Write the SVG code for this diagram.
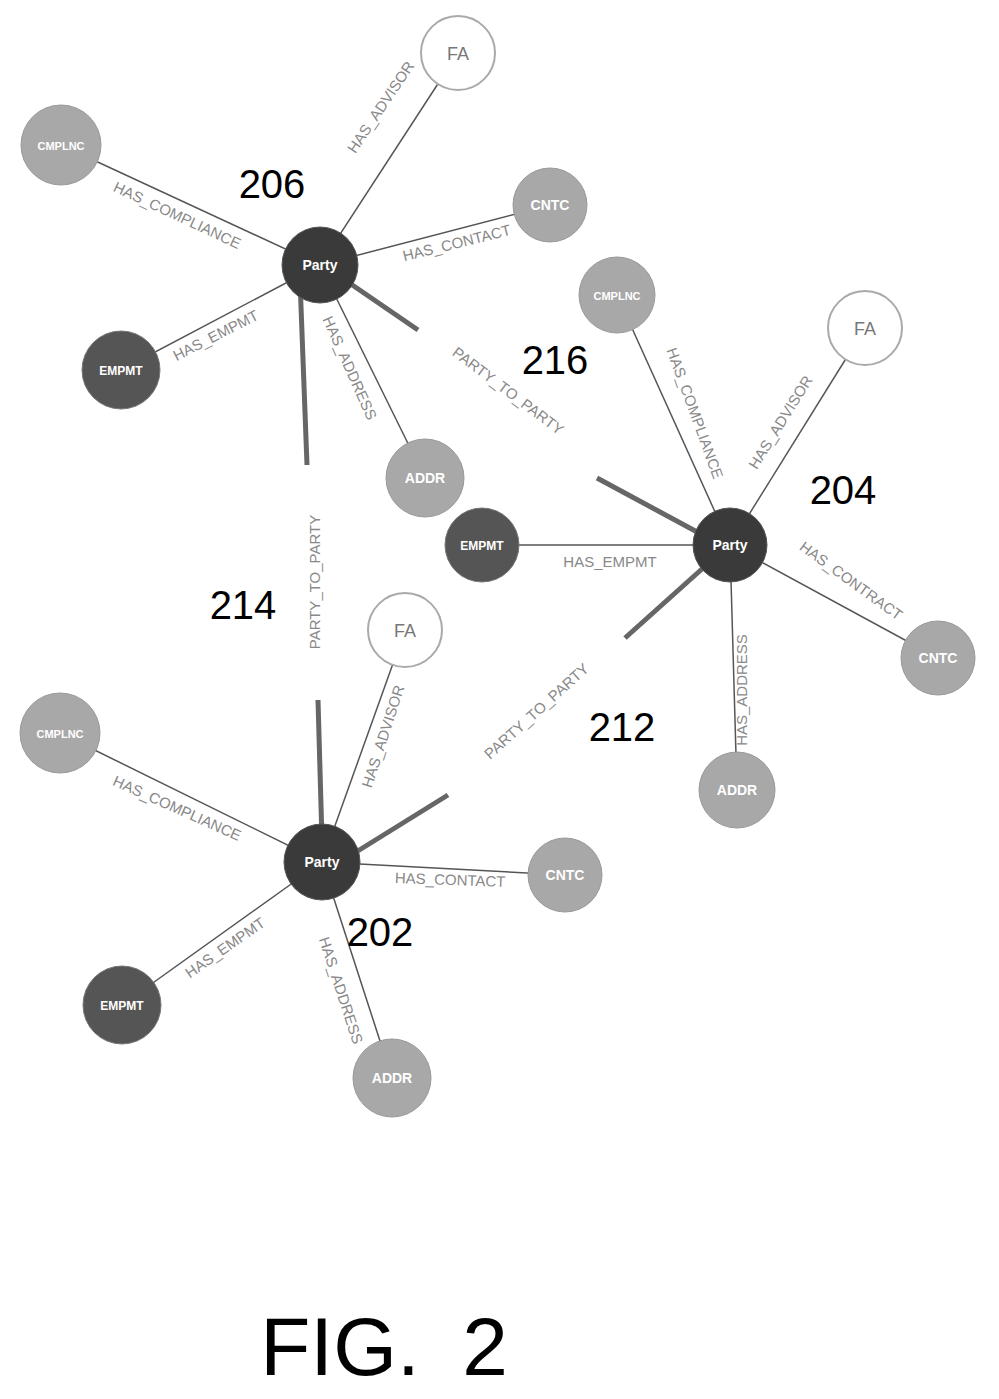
<svg xmlns="http://www.w3.org/2000/svg" width="999" height="1399" viewBox="0 0 999 1399">
<style>
.e{stroke:#555;stroke-width:1.5;fill:none}
.p{stroke:#666;stroke-width:5;fill:none}
.l{font-family:"Liberation Sans",Arial,sans-serif;font-size:15px;fill:#888;text-anchor:middle}
.n{font-family:"Liberation Sans",Arial,sans-serif;font-size:40px;fill:#000;text-anchor:middle}
.t{font-family:"Liberation Sans",Arial,sans-serif;font-size:14px;fill:#fff;text-anchor:middle;font-weight:bold}
.party{fill:#3a3a3a;stroke:#555}
.emp{fill:#555;stroke:#777}
.gray{fill:#a8a8a8;stroke:#999}
.fa{fill:#fff;stroke:#aaa;stroke-width:2}
</style>
<rect width="999" height="1399" fill="#fff"/>
<g id="connectors">
<line class="e" x1="320" y1="265" x2="458" y2="53"/>
<line class="e" x1="320" y1="265" x2="61" y2="145"/>
<line class="e" x1="320" y1="265" x2="550" y2="205"/>
<line class="e" x1="320" y1="265" x2="121" y2="370"/>
<line class="e" x1="320" y1="265" x2="425" y2="478"/>
<line class="e" x1="730" y1="545" x2="617" y2="295"/>
<line class="e" x1="730" y1="545" x2="865" y2="328"/>
<line class="e" x1="730" y1="545" x2="482" y2="545"/>
<line class="e" x1="730" y1="545" x2="938" y2="658"/>
<line class="e" x1="730" y1="545" x2="737" y2="790"/>
<line class="e" x1="322" y1="862" x2="405" y2="630"/>
<line class="e" x1="322" y1="862" x2="60" y2="733"/>
<line class="e" x1="322" y1="862" x2="565" y2="875"/>
<line class="e" x1="322" y1="862" x2="122" y2="1005"/>
<line class="e" x1="322" y1="862" x2="392" y2="1078"/>
<line class="p" x1="300" y1="280" x2="307" y2="465"/>
<line class="p" x1="318" y1="700" x2="322" y2="840"/>
<line class="p" x1="345" y1="280" x2="418" y2="330"/>
<line class="p" x1="597" y1="478" x2="712" y2="540"/>
<line class="p" x1="340" y1="862" x2="448" y2="795"/>
<line class="p" x1="625" y1="638" x2="712" y2="560"/>
<text class="l" transform="translate(385,110) rotate(-56)">HAS_ADVISOR</text>
<text class="l" transform="translate(175,220) rotate(25)">HAS_COMPLIANCE</text>
<text class="l" transform="translate(458,248) rotate(-14)">HAS_CONTACT</text>
<text class="l" transform="translate(218,340) rotate(-27)">HAS_EMPMT</text>
<text class="l" transform="translate(345,370) rotate(66)">HAS_ADDRESS</text>
<text class="l" transform="translate(505,395) rotate(37)">PARTY_TO_PARTY</text>
<text class="l" transform="translate(320,582) rotate(-90)">PARTY_TO_PARTY</text>
<text class="l" transform="translate(690,415) rotate(70)">HAS_COMPLIANCE</text>
<text class="l" transform="translate(785,425) rotate(-58)">HAS_ADVISOR</text>
<text class="l" transform="translate(610,567)">HAS_EMPMT</text>
<text class="l" transform="translate(848,585) rotate(36)">HAS_CONTRACT</text>
<text class="l" transform="translate(747,690) rotate(-90)">HAS_ADDRESS</text>
<text class="l" transform="translate(540,715) rotate(-42)">PARTY_TO_PARTY</text>
<text class="l" transform="translate(388,738) rotate(-72)">HAS_ADVISOR</text>
<text class="l" transform="translate(175,813) rotate(24)">HAS_COMPLIANCE</text>
<text class="l" transform="translate(450,885) rotate(2)">HAS_CONTACT</text>
<text class="l" transform="translate(228,952) rotate(-35)">HAS_EMPMT</text>
<text class="l" transform="translate(336,992) rotate(72)">HAS_ADDRESS</text>
</g>
<g id="n206"><circle class="party" cx="320" cy="265" r="38"/><text class="t" x="320" y="270">Party</text></g>
<g id="n206fa"><circle class="fa" cx="458" cy="53" r="37"/><text class="l" x="458" y="60" style="font-size:18px;fill:#777">FA</text></g>
<g id="n206cmp"><circle class="gray" cx="61" cy="145" r="40"/><text class="t" x="61" y="150" style="font-size:11px">CMPLNC</text></g>
<g id="n206cntc"><circle class="gray" cx="550" cy="205" r="37"/><text class="t" x="550" y="210">CNTC</text></g>
<g id="n206emp"><circle class="emp" cx="121" cy="370" r="39"/><text class="t" x="121" y="375" style="font-size:12px">EMPMT</text></g>
<g id="n206addr"><circle class="gray" cx="425" cy="478" r="39"/><text class="t" x="425" y="483">ADDR</text></g>
<g id="n204"><circle class="party" cx="730" cy="545" r="37"/><text class="t" x="730" y="550">Party</text></g>
<g id="n204cmp"><circle class="gray" cx="617" cy="295" r="38"/><text class="t" x="617" y="300" style="font-size:11px">CMPLNC</text></g>
<g id="n204fa"><circle class="fa" cx="865" cy="328" r="37"/><text class="l" x="865" y="335" style="font-size:18px;fill:#777">FA</text></g>
<g id="n204emp"><circle class="emp" cx="482" cy="545" r="37"/><text class="t" x="482" y="550" style="font-size:12px">EMPMT</text></g>
<g id="n204cntc"><circle class="gray" cx="938" cy="658" r="37"/><text class="t" x="938" y="663">CNTC</text></g>
<g id="n204addr"><circle class="gray" cx="737" cy="790" r="38"/><text class="t" x="737" y="795">ADDR</text></g>
<g id="n202"><circle class="party" cx="322" cy="862" r="38"/><text class="t" x="322" y="867">Party</text></g>
<g id="n202fa"><circle class="fa" cx="405" cy="630" r="37"/><text class="l" x="405" y="637" style="font-size:18px;fill:#777">FA</text></g>
<g id="n202cmp"><circle class="gray" cx="60" cy="733" r="40"/><text class="t" x="60" y="738" style="font-size:11px">CMPLNC</text></g>
<g id="n202cntc"><circle class="gray" cx="565" cy="875" r="37"/><text class="t" x="565" y="880">CNTC</text></g>
<g id="n202emp"><circle class="emp" cx="122" cy="1005" r="39"/><text class="t" x="122" y="1010" style="font-size:12px">EMPMT</text></g>
<g id="n202addr"><circle class="gray" cx="392" cy="1078" r="39"/><text class="t" x="392" y="1083">ADDR</text></g>
<g id="labels">
<text class="n" x="272" y="198">206</text>
<text class="n" x="555" y="374">216</text>
<text class="n" x="843" y="504">204</text>
<text class="n" x="243" y="619">214</text>
<text class="n" x="622" y="741">212</text>
<text class="n" x="380" y="946">202</text>
<text class="n" x="340" y="1375" style="font-size:82px">FIG.</text>
<text class="n" x="485" y="1375" style="font-size:82px">2</text>
</g>
</svg>
